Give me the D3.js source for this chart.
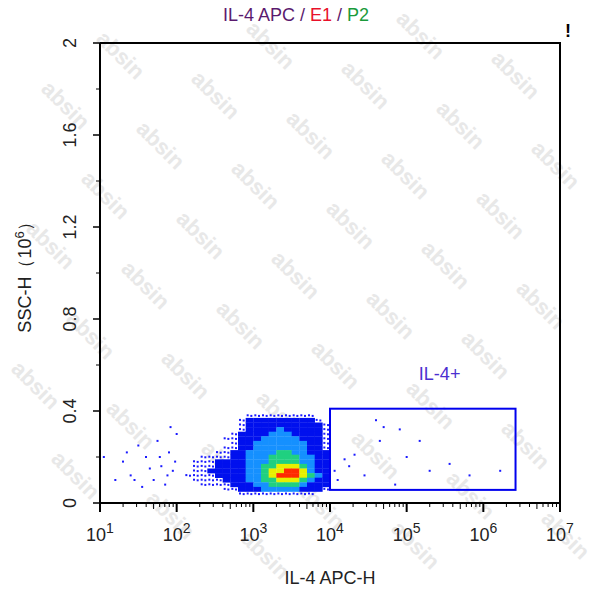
<!DOCTYPE html><html><head><meta charset="utf-8">
<script src="https://cdn.jsdelivr.net/npm/d3@7"></script>
<style>body{margin:0;background:#fff}text{font-family:"Liberation Sans",Arial,sans-serif}</style></head><body>
<script>
// density grid: columns logx 2.0..3.9 step 0.1, rows y 0.38..0.04 step 0.02
const gridX0=2.0, gridDX=0.1, gridY0=0.38, gridDY=0.02;
const densityRows=[
"00000000011111111100",
"00000000122222222210",
"00000000122222222221",
"00000000122223222221",
"00000001222233322221",
"00000011222333332221",
"00000001223333333221",
"00000011223333333221",
"00000112233334433222",
"00011112233344443322",
"00111222233344443322",
"00111222233445554322",
"00112222233455665322",
"01111222233456665432",
"00111122233445554322",
"00011112223344443222",
"00000011222333332221",
"00000000111111111100"];
const levelColors=["none","#1a1aff","#0010ee","#1590ff","#20d080","#e8f000","#ff2a00"];
const sparsePoints=[[1.0,0.26],[1.05,0.2],[1.3,0.18],[1.4,0.12],[1.6,0.2],[1.5,0.25],[1.7,0.1],[1.8,0.16],[1.9,0.22],[1.85,0.08],[1.95,0.14],[1.2,0.1],[1.65,0.15],[2.0,0.3],[1.75,0.27],[1.55,0.07],[1.92,0.33],[1.35,0.22],[1.45,0.1],[1.88,0.12],[1.78,0.2],[1.98,0.18],
[4.06,0.14],[4.19,0.19],[4.32,0.21],[4.45,0.12],[4.65,0.27],[4.85,0.08],[4.91,0.32],[5.17,0.27],[5.30,0.14],[5.56,0.17],[5.82,0.12],[6.22,0.14],[4.7,0.33],[4.6,0.36],[4.1,0.1],[4.25,0.16],[5.0,0.2]];
const gate={x0:4.0,x1:6.42,y0:0.057,y1:0.41,label:"IL-4+"};
const yTicks=[0,0.4,0.8,1.2,1.6,2];
const xDecades=[1,2,3,4,5,6,7];

const W=593,H=600;
const svg=d3.select("body").append("svg").attr("width",W).attr("height",H);
const x=d3.scaleLinear().domain([1,7]).range([100,560]);
const y=d3.scaleLinear().domain([0,2]).range([503,43]);

// watermark (only where fully inside)
const wm=svg.append("g").attr("fill","#e8e8e8").attr("font-size",22).attr("font-weight","bold");
for(let i=-3;i<8;i++)for(let j=-2;j<8;j++){
  const tx=i*95+j*40, ty=j*90+i*40;
  if(tx<10||tx>545||ty<15||ty>545)continue;
  wm.append("text").attr("transform",`translate(${tx},${ty}) rotate(45)`).text("absin");
}

// density cells
densityRows.forEach((row,r)=>{
  [...row].forEach((c,i)=>{
    const lv=+c; if(!lv)return;
    const lx=gridX0+i*gridDX, yv=gridY0-r*gridDY;
    const px=x(lx), py=y(yv+gridDY/2), w=x(lx+gridDX)-px, h=y(yv-gridDY/2)-py;
    if(lv===1){
      svg.append("rect").attr("x",px+1).attr("y",py+1).attr("width",2).attr("height",2).attr("fill",levelColors[1]);
      svg.append("rect").attr("x",px+w-3).attr("y",py+h-3).attr("width",2).attr("height",2).attr("fill",levelColors[1]);
    } else svg.append("rect").attr("x",px).attr("y",py).attr("width",w+0.3).attr("height",h+0.3).attr("fill",levelColors[lv]);
  });
});
svg.selectAll(".sp").data(sparsePoints).enter().append("rect")
 .attr("x",d=>x(d[0])-1).attr("y",d=>y(d[1])-1).attr("width",2).attr("height",2).attr("fill","#1a1aff");

// gate
svg.append("rect").attr("x",x(gate.x0)).attr("y",y(gate.y1)).attr("width",x(gate.x1)-x(gate.x0)).attr("height",y(gate.y0)-y(gate.y1))
 .attr("fill","none").attr("stroke","#0000ee").attr("stroke-width",2);
svg.append("text").attr("x",x(5.43)).attr("y",y(0.535)).attr("text-anchor","middle").attr("font-size",18).attr("fill","#4b2fd0").text(gate.label);

// frame
svg.append("path").attr("d",`M100,43H560V503`).attr("fill","none").attr("stroke","#000").attr("stroke-width",2);
svg.append("line").attr("x1",100).attr("x2",100).attr("y1",43).attr("y2",503).attr("stroke","#000").attr("stroke-width",2);
svg.append("line").attr("x1",100).attr("x2",560).attr("y1",503).attr("y2",503).attr("stroke","#000").attr("stroke-width",2);

// y axis
yTicks.forEach(t=>{
  svg.append("line").attr("x1",93).attr("x2",100).attr("y1",y(t)).attr("y2",y(t)).attr("stroke","#000").attr("stroke-width",1.5);
  svg.append("text").attr("transform",`translate(76,${y(t)}) rotate(-90)`).attr("text-anchor","middle").attr("font-size",18).attr("fill","#222").text(t);
});
for(let t=0.2;t<2;t+=0.4){svg.append("line").attr("x1",96).attr("x2",100).attr("y1",y(t)).attr("y2",y(t)).attr("stroke","#000");}
// x axis
xDecades.forEach(d=>{
  svg.append("line").attr("x1",x(d)).attr("x2",x(d)).attr("y1",503).attr("y2",512).attr("stroke","#000").attr("stroke-width",2);
  const t=svg.append("text").attr("x",x(d)).attr("y",541).attr("text-anchor","middle").attr("font-size",18).attr("fill","#222");
  t.append("tspan").text("10");
  t.append("tspan").attr("dy",-8).attr("font-size",14).text(d);
  if(d<7)for(let m=2;m<10;m++){const lx=d+Math.log10(m);
    svg.append("line").attr("x1",x(lx)).attr("x2",x(lx)).attr("y1",503).attr("y2",m===5?509:507).attr("stroke","#000");}
});
svg.append("text").attr("x",330).attr("y",584).attr("text-anchor","middle").attr("font-size",18).attr("fill","#222").text("IL-4 APC-H");
const yt=svg.append("text").attr("transform","translate(31,273) rotate(-90)").attr("text-anchor","middle").attr("font-size",18).attr("fill","#222");
yt.append("tspan").text("SSC-H（10");yt.append("tspan").attr("dy",-7).attr("font-size",13).text("6");yt.append("tspan").attr("dy",7).text("）");

// title
const tt=svg.append("text").attr("x",296).attr("y",21).attr("text-anchor","middle").attr("font-size",18);
tt.append("tspan").attr("fill","#5a1a6e").text("IL-4 APC / ");
tt.append("tspan").attr("fill","#e8102a").text("E1");
tt.append("tspan").attr("fill","#5a1a6e").text(" / ");
tt.append("tspan").attr("fill","#1a9a3a").text("P2");
svg.append("text").attr("x",568).attr("y",37).attr("text-anchor","middle").attr("font-size",18).attr("font-weight","bold").text("!");
</script></body></html>
